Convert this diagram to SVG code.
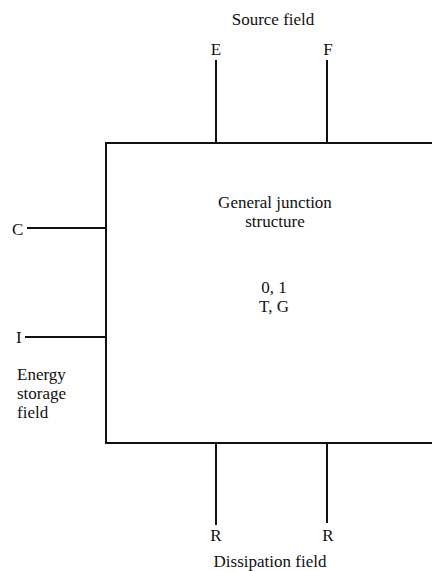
<svg xmlns="http://www.w3.org/2000/svg" width="432" height="571" viewBox="0 0 432 571">
<style>
text{font-family:"Liberation Serif","Times New Roman",serif;font-size:17px;fill:#111}
.m{text-anchor:middle}
.ln{stroke:#111;stroke-width:2;fill:none}
</style>
<rect width="432" height="571" fill="#fff"/>
<g id="junction">
<rect class="ln" x="106" y="143" width="400" height="300"/>
<text class="m" x="275" y="208">General junction</text>
<text class="m" x="275" y="227">structure</text>
<text class="m" x="274" y="293">0,  1</text>
<text class="m" x="274" y="312">T,  G</text>
</g>
<g id="source-field">
<text class="m" x="273" y="25">Source field</text>
<text class="m" x="216" y="55">E</text>
<text class="m" x="328" y="55">F</text>
</g>
<g id="storage-field">
<text x="12" y="235">C</text>
<text x="16" y="343">I</text>
<text x="17" y="380">Energy</text>
<text x="17" y="399">storage</text>
<text x="17" y="418">field</text>
</g>
<g id="dissipation-field">
<text class="m" x="216" y="541">R</text>
<text class="m" x="328" y="541">R</text>
<text class="m" x="270" y="567">Dissipation field</text>
</g>
<g id="connectors">
<line class="ln" x1="216" y1="60" x2="216" y2="143"/>
<line class="ln" x1="327" y1="60" x2="327" y2="143"/>
<line class="ln" x1="27" y1="228" x2="106" y2="228"/>
<line class="ln" x1="25" y1="337" x2="106" y2="337"/>
<line class="ln" x1="216" y1="443" x2="216" y2="525"/>
<line class="ln" x1="327" y1="443" x2="327" y2="523"/>
</g>
</svg>
